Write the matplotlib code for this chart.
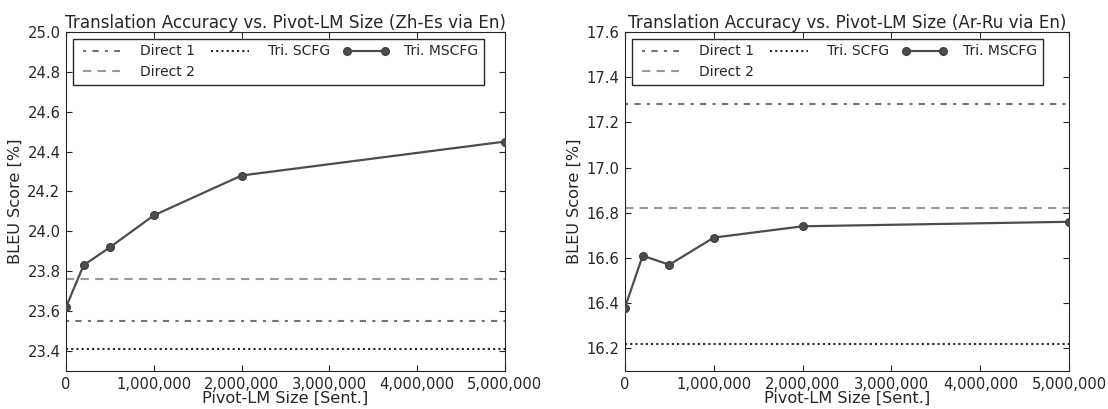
import numpy as np
import matplotlib.pyplot as plt
from matplotlib.ticker import FuncFormatter, MultipleLocator

# data
lm_sizes = [0, 200000, 500000, 1000000, 2000000, 5000000]

zh_es_mscfg = [23.62, 23.83, 23.92, 24.08, 24.28, 24.45]
zh_es_direct1 = 23.55
zh_es_direct2 = 23.76
zh_es_scfg = 23.41

ar_ru_mscfg = [16.38, 16.61, 16.57, 16.69, 16.74, 16.76]
ar_ru_direct1 = 17.28
ar_ru_direct2 = 16.82
ar_ru_scfg = 16.22

panels = [
    ("Translation Accuracy vs. Pivot-LM Size (Zh-Es via En)",
     zh_es_mscfg, zh_es_direct1, zh_es_direct2, zh_es_scfg, (23.3, 25.0)),
    ("Translation Accuracy vs. Pivot-LM Size (Ar-Ru via En)",
     ar_ru_mscfg, ar_ru_direct1, ar_ru_direct2, ar_ru_scfg, (16.1, 17.6)),
]

fig = plt.figure(figsize=(11.08, 4.09), dpi=100)
boxes = [[0.0596, 0.093, 0.396, 0.829], [0.564, 0.093, 0.401, 0.829]]

for box, (title, mscfg, d1, d2, scfg, ylim) in zip(boxes, panels):
    ax = fig.add_axes(box)
    ax.axhline(d1, color="0.45", lw=1.5, dashes=(1.5, 3, 3, 3), label="Direct 1")
    ax.axhline(d2, color="0.6", lw=1.5, dashes=(4, 3), label="Direct 2")
    ax.axhline(scfg, color="0.15", lw=1.5, dashes=(1, 1.5), label="Tri. SCFG")
    ax.plot(lm_sizes, mscfg, color="0.3", lw=1.6, marker="o", ms=5.5,
            mfc="0.3", mec="0.25", label="Tri. MSCFG", zorder=5)
    ax.set_xlim(0, 5000000)
    ax.set_ylim(*ylim)
    ax.xaxis.set_major_locator(MultipleLocator(1000000))
    ax.yaxis.set_major_locator(MultipleLocator(0.2))
    ax.xaxis.set_major_formatter(FuncFormatter(lambda v, p: f"{int(v):,}"))
    ax.yaxis.set_major_formatter(FuncFormatter(lambda v, p: f"{v:.1f}"))
    ax.tick_params(direction="in", top=True, right=True, length=4,
                   labelsize=10.6, colors="0.15", pad=4)
    for s in ax.spines.values():
        s.set_color("0.15")
    ax.set_title(title, fontsize=12.1, color="0.15", pad=3)
    ax.set_xlabel("Pivot-LM Size [Sent.]", fontsize=11.6, color="0.15", labelpad=-0.5)
    ax.set_ylabel("BLEU Score [%]", fontsize=11.6, color="0.15", labelpad=3)
    leg = ax.legend(ncol=3, loc="upper left", fontsize=10, fancybox=False,
                    framealpha=1, edgecolor="0.15", borderaxespad=0.5,
                    handlelength=3.3, handletextpad=1.1, columnspacing=0.9,
                    numpoints=2, labelcolor="0.15")
    leg.get_frame().set_linewidth(1.0)

fig.savefig("out.png", dpi=100)
